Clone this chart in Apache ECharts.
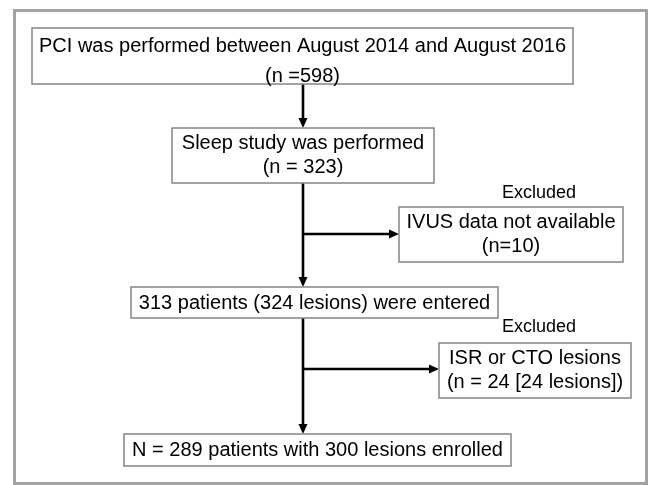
<!DOCTYPE html>
<html>
<head>
<meta charset="utf-8">
<script src="https://cdn.jsdelivr.net/npm/echarts@6/dist/echarts.min.js"></script>
<style>
    html, body { margin: 0; padding: 0; background: #fff; }
    #flow_chart { width: 649px; height: 485px; }
</style>
</head>
<body>
<div id="flow_chart"></div>
<script>
// flow steps (main column)
const stepLabels = [
    'PCI was performed between August 2014 and August 2016',
    'Sleep study was performed',
    '313 patients (324 lesions) were entered',
    'N = 289 patients with 300 lesions enrolled'
];
const stepCounts = ['(n =598)', '(n = 323)', '', ''];

// exclusions (side boxes)
const excludedTitle = 'Excluded';
const excludedLabels = ['IVUS data not available', 'ISR or CTO lesions'];
const excludedCounts = ['(n=10)', '(n = 24 [24 lesions])'];

// layout, in page units (x1, y1, x2, y2)
const stepBoxes = [[32, 28, 573, 84], [172, 128, 434, 183], [131, 287, 498, 318], [124, 434, 511, 466]];
const stepTextY = [61, 155, 303, 450];
const stepLineHeight = [30, 24, 24, 24];
const excludedBoxes = [[399, 207, 623, 262], [439, 343, 631, 398]];
const excludedTitlePos = [[539, 193], [539, 327]];
const spineX = 303;
const branchY = [234, 369];

const FONT = '"Liberation Sans", Arial, sans-serif';

let chart = echarts.init(document.getElementById('flow_chart'), null, {renderer: 'canvas'});

function boxItem(box, text, textY, lineHeight, api) {
    const p1 = api.coord([box[0], box[1]]);
    const p2 = api.coord([box[2], box[3]]);
    const cx = (p1[0] + p2[0]) / 2;
    const ty = api.coord([0, textY])[1];
    return {
        type: 'group',
        children: [
            {
                type: 'rect',
                shape: {x: p1[0], y: p1[1], width: p2[0] - p1[0], height: p2[1] - p1[1]},
                style: {fill: '#fff', stroke: '#858585', lineWidth: 1.5}
            },
            {
                type: 'text',
                x: cx,
                y: ty,
                style: {
                    text: text,
                    fill: '#000',
                    font: '20px ' + FONT,
                    align: 'center',
                    verticalAlign: 'middle',
                    lineHeight: lineHeight
                }
            }
        ]
    };
}

// arrows: [x1, y1, x2, y2]
const arrows = [];
for (let i = 0; i < stepBoxes.length - 1; i++) {
    arrows.push([spineX, stepBoxes[i][3], spineX, stepBoxes[i + 1][1]]);
}
branchY.forEach((y, i) => arrows.push([spineX, y, excludedBoxes[i][0], y]));

const option = {
    animation: false,
    grid: {left: 0, right: 0, top: 0, bottom: 0},
    xAxis: {type: 'value', min: 0, max: 649, show: false},
    yAxis: {type: 'value', min: 0, max: 485, inverse: true, show: false},
    graphic: [{
        type: 'rect',
        shape: {x: 14.5, y: 10.5, width: 632, height: 473},
        style: {fill: 'none', stroke: '#a3a3a3', lineWidth: 3}
    }],
    series: [
        {
            type: 'custom',
            name: 'arrows',
            data: arrows,
            renderItem: function (params, api) {
                const a = api.coord([api.value(0), api.value(1)]);
                const b = api.coord([api.value(2), api.value(3)]);
                const dx = b[0] - a[0], dy = b[1] - a[1];
                const len = Math.sqrt(dx * dx + dy * dy);
                const ux = dx / len, uy = dy / len;
                const head = 10, half = 4.5;
                const base = [b[0] - ux * head, b[1] - uy * head];
                return {
                    type: 'group',
                    children: [
                        {
                            type: 'line',
                            shape: {x1: a[0], y1: a[1], x2: base[0], y2: base[1]},
                            style: {stroke: '#000', lineWidth: 2.6}
                        },
                        {
                            type: 'polygon',
                            shape: {points: [b, [base[0] - uy * half, base[1] + ux * half], [base[0] + uy * half, base[1] - ux * half]]},
                            style: {fill: '#000'}
                        }
                    ]
                };
            }
        },
        {
            type: 'custom',
            name: 'steps',
            data: stepLabels.map((t, i) => [i]),
            renderItem: function (params, api) {
                const i = api.value(0);
                const text = stepCounts[i] ? stepLabels[i] + '\n' + stepCounts[i] : stepLabels[i];
                return boxItem(stepBoxes[i], text, stepTextY[i], stepLineHeight[i], api);
            }
        },
        {
            type: 'custom',
            name: 'excluded',
            data: excludedLabels.map((t, i) => [i]),
            renderItem: function (params, api) {
                const i = api.value(0);
                const box = excludedBoxes[i];
                const item = boxItem(box, excludedLabels[i] + '\n' + excludedCounts[i], (box[1] + box[3]) / 2, 24, api);
                const tp = api.coord(excludedTitlePos[i]);
                item.children.push({
                    type: 'text',
                    x: tp[0],
                    y: tp[1],
                    style: {
                        text: excludedTitle,
                        fill: '#000',
                        font: '18px ' + FONT,
                        align: 'center',
                        verticalAlign: 'middle'
                    }
                });
                return item;
            }
        }
    ]
};
chart.setOption(option);
window.addEventListener('resize', function () {
    chart.resize();
});
</script>
</body>
</html>
